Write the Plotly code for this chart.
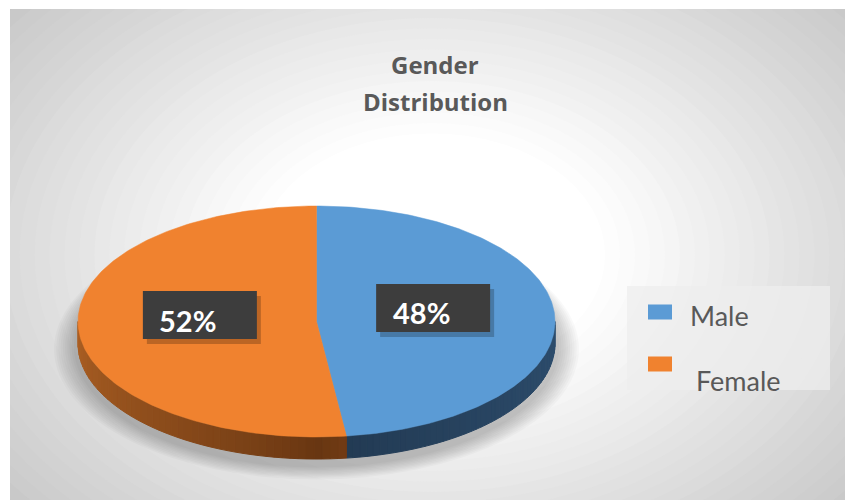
import numpy as np
import plotly.graph_objects as go

# ---- data ----
categories = ["Male", "Female"]
values = [48, 52]
colors_top = ["#5B9BD5", "#F0822F"]
side_dark = [(33, 56, 80), (104, 54, 18)]
side_light = [(46, 78, 110), (172, 96, 36)]
title_lines = ["Gender", "Distribution"]

W, H = 845, 500
fig = go.Figure()

# geometry of the pseudo-3D pie (layout constants, pixel space)
cx, cy, rx, ry, depth = 316.5, 321.5, 238.5, 115.5, 22

def pt(t_deg, dy=0.0):
    t = np.radians(t_deg)
    return cx + rx * np.sin(t), cy - ry * np.cos(t) + dy

shapes = []
# radial background gradient
N = 45
for i in range(N):
    s = 1.45 - i * (1.45 - 0.05) / (N - 1)
    f = min(1.0, max(0.0, (1.25 - s) / (1.25 - 0.38)))
    g = int(196 + (255 - 196) * f)
    shapes.append(dict(type="circle", xref="x", yref="y", layer="below",
                       x0=432 - 470 * s, x1=432 + 470 * s,
                       y0=255 - 330 * s, y1=255 + 330 * s,
                       fillcolor=f"rgb({g},{g},{g})", line=dict(width=0)))
# soft shadow under pie
for k in range(10):
    e = 24 - k * 2.2
    shapes.append(dict(type="circle", xref="x", yref="y", layer="below",
                       x0=cx - rx - e, x1=cx + rx + e,
                       y0=cy - ry + 20 - e * 0.3, y1=cy + ry + depth + 6 + e * 0.6,
                       fillcolor="rgba(0,0,0,0.025)", line=dict(width=0)))

total = sum(values)
start = 0.0
spans = []
for v in values:
    spans.append((start, start + 360.0 * v / total))
    start += 360.0 * v / total

# sides
for (a, b), dk, lt in zip(spans, side_dark, side_light):
    lo, hi = max(a, 90.0), min(b, 270.0)
    if hi <= lo:
        continue
    n = 50
    ts = np.linspace(lo, hi, n + 1)
    for j in range(n):
        t0, t1 = ts[j], ts[j + 1]
        tm = 0.5 * (t0 + t1)
        w = abs(tm - 180.0) / 90.0  # 0 at front, 1 at edge
        w = w ** 0.8
        c = tuple(int(dk[q] + (lt[q] - dk[q]) * w) for q in range(3))
        x0, y0 = pt(t0)
        x1, y1 = pt(t1)
        xs = [x0, x1, x1, x0, x0]
        ys = [y0, y1, y1 + depth, y0 + depth, y0]
        col = f"rgb{c}"
        fig.add_trace(go.Scatter(x=xs, y=ys, fill="toself", mode="lines",
                                 line=dict(color=col, width=1), fillcolor=col,
                                 hoverinfo="skip", showlegend=False))

# top faces
for (a, b), name, col in zip(spans, categories, colors_top):
    ts = np.linspace(a, b, 200)
    xs = [cx] + [pt(t)[0] for t in ts] + [cx]
    ys = [cy] + [pt(t)[1] for t in ts] + [cy]
    fig.add_trace(go.Scatter(x=xs, y=ys, fill="toself", mode="lines",
                             line=dict(color=col, width=0.5), fillcolor=col,
                             name=name, hoverinfo="name", showlegend=False))

annotations = []
# data labels
for (a, b), v in zip(spans, values):
    tm = 0.5 * (a + b)
    lx, ly = cx + 0.49 * rx * np.sin(np.radians(tm)), cy - 0.49 * ry * np.cos(np.radians(tm)) - 10
    bw, bh = 114, 48
    shapes.append(dict(type="rect", xref="x", yref="y", x0=lx - bw / 2 + 4, x1=lx + bw / 2 + 4,
                       y0=ly - bh / 2 + 5, y1=ly + bh / 2 + 5,
                       fillcolor="rgba(0,0,0,0.22)", line=dict(width=0)))
    shapes.append(dict(type="rect", xref="x", yref="y", x0=lx - bw / 2, x1=lx + bw / 2,
                       y0=ly - bh / 2, y1=ly + bh / 2,
                       fillcolor="#3D3D3D", line=dict(width=0)))
    annotations.append(dict(x=lx - 12, y=ly + 5, xref="x", yref="y", text=f"<b>{v}%</b>",
                            showarrow=False, font=dict(family="Lato", size=29, color="white")))

# legend (custom)
shapes.append(dict(type="rect", xref="x", yref="y", x0=627, x1=830, y0=286, y1=390,
                   fillcolor="rgba(238,238,238,0.75)", line=dict(width=0)))
leg_y = [312, 364]
txt_y = [315, 380]
txt_x = [688, 694]
for name, col, sy, ty, tx in zip(categories, colors_top, leg_y, txt_y, txt_x):
    shapes.append(dict(type="rect", xref="x", yref="y", x0=648, x1=672, y0=sy - 7.5, y1=sy + 7.5,
                       fillcolor=col, line=dict(width=0)))
    annotations.append(dict(x=tx, y=ty, xref="x", yref="y", text=name, xanchor="left",
                            showarrow=False, font=dict(family="Lato", size=27, color="#595959")))

# title
for line, yy in zip(title_lines, [64, 101]):
    annotations.append(dict(x=435, y=yy, xref="x", yref="y", text=f"<b>{line}</b>",
                            showarrow=False, font=dict(family="Open Sans", size=24, color="#595959")))

fig.update_layout(
    width=W, height=H,
    margin=dict(l=10, r=0, t=9, b=0),
    paper_bgcolor="white", plot_bgcolor="rgb(196,196,196)",
    xaxis=dict(range=[10, W], visible=False, fixedrange=True),
    yaxis=dict(range=[H, 9], visible=False, fixedrange=True),
    shapes=shapes, annotations=annotations, showlegend=False,
)
fig.write_html("out.html", config={"displayModeBar": False},
               post_script="document.body.style.margin='0px';")
